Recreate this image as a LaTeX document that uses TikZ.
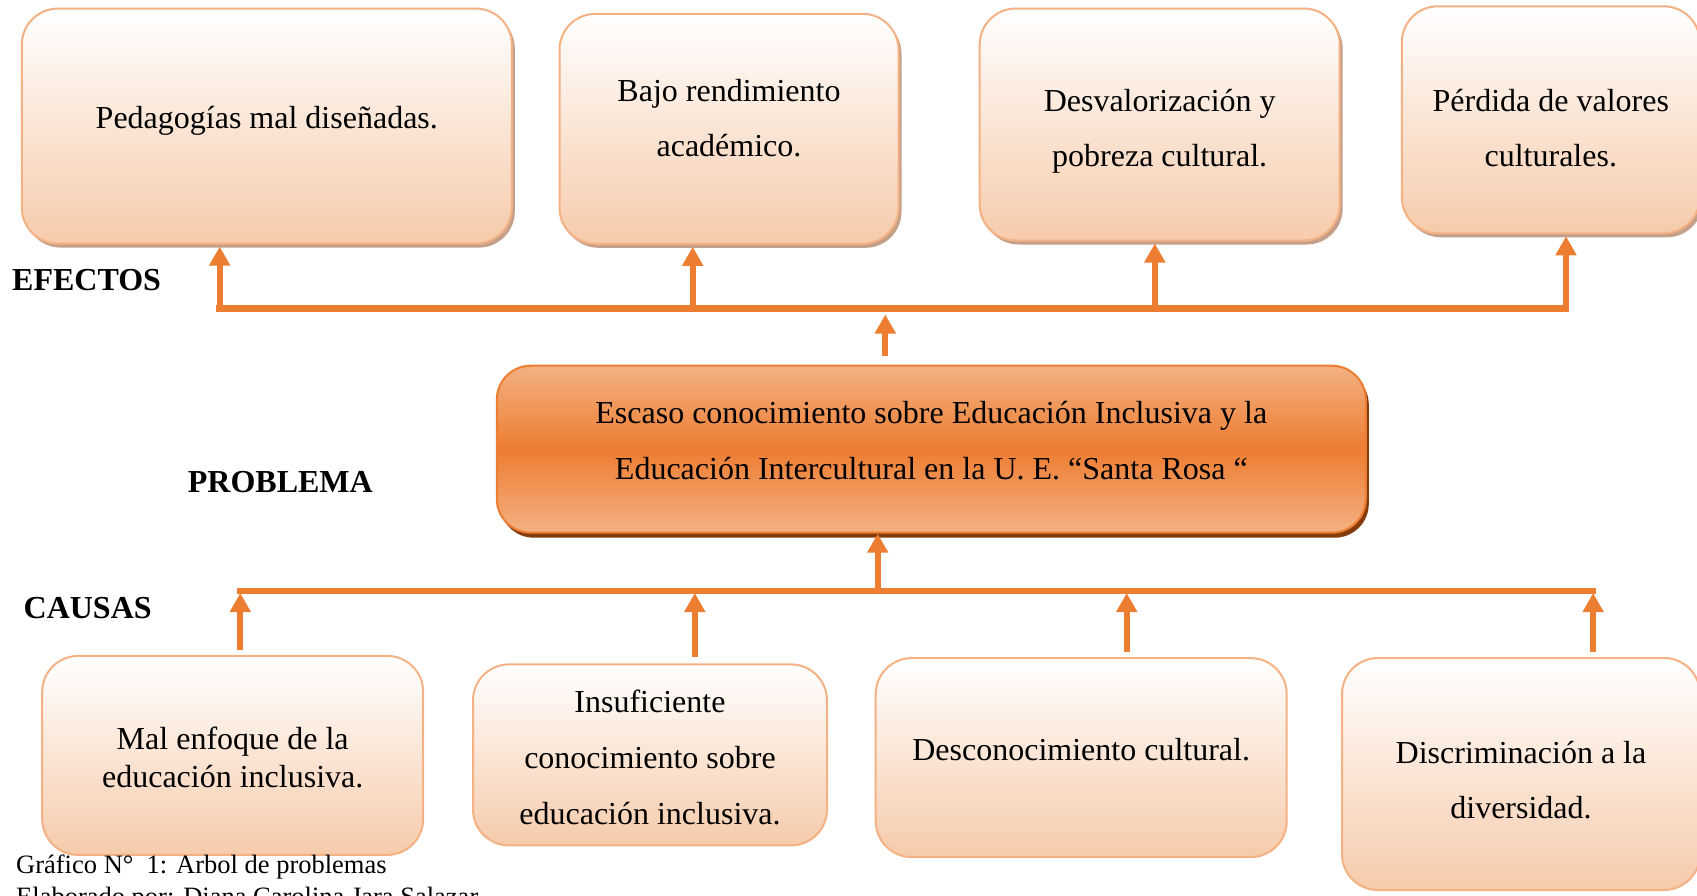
\documentclass[tikz,border=0pt]{standalone}
\usepackage{fontspec}
\setmainfont{Liberation Serif}
\usetikzlibrary{positioning, arrows.meta, shadows}
\definecolor{naranja}{RGB}{237,125,49}
\definecolor{durazno}{RGB}{246,203,171}
\definecolor{borde}{RGB}{244,177,131}
\definecolor{sombra}{RGB}{196,160,138}
\definecolor{cafe}{RGB}{132,60,12}
\tikzset{
	>={Triangle[length=19pt,width=20pt]},
	texto/.style={align=center, inner sep=0pt, font=\fontsize{32}{55}\selectfont},
	caja/.style={draw=borde, line width=2pt, rounded corners=36pt, top color=white, bottom color=durazno, inner sep=0pt},
	efecto/.style={caja, drop shadow={fill=sombra, shadow xshift=3pt, shadow yshift=-4pt, opacity=1}},
	problema/.style={draw=naranja, line width=2pt, rounded corners=34pt, top color=borde, bottom color=borde, middle color=naranja, inner sep=0pt, drop shadow={fill=cafe, shadow xshift=3pt, shadow yshift=-5pt, opacity=1}},
	etiqueta/.style={font=\fontsize{32}{38}\selectfont\bfseries},
	flecha/.style={->, draw=naranja, line width=6.3pt},
	linea/.style={draw=naranja, line width=6.5pt, line cap=rect}}

\begin{document}
\begin{tikzpicture}[x=1pt, y=-1pt]
		\useasboundingbox (0,0) rectangle (1697,895);
		
		%Efectos
		\node[efecto, minimum width=490pt, minimum height=235pt, label={[texto, name=t1, yshift=5.4pt]center:Pedagogías mal diseñadas.}] (ef1) at (266.8,126.1) {};
		\node[efecto, minimum width=339pt, minimum height=230pt, label={[texto, name=t2, yshift=10.8pt]center:Bajo rendimiento\\académico.}] (ef2) at (729,128.8) {};
		\node[efecto, minimum width=360pt, minimum height=232pt, label={[texto, name=t3, yshift=-6.5pt]center:Desvalorización y\\pobreza cultural.}] (ef3) at (1159.7,124.5) {};
		\node[efecto, minimum width=298pt, minimum height=227pt, label={[texto, name=t4, yshift=-8.7pt]center:Pérdida de valores\\culturales.}] (ef4) at (1550.8,119.8) {};
		
		%Problema
		\node[problema, minimum width=869pt, minimum height=167pt, label={[texto, name=tp, yshift=8.7pt, font=\fontsize{32}{56}\selectfont]center:Escaso conocimiento sobre Educación Inclusiva y la\\Educación Intercultural en la U. E. “Santa Rosa “}] (pr) at (931.3,449.2) {};
		
		%Causas
		\node[caja, minimum width=381pt, minimum height=199pt, label={[texto, name=s1, yshift=-2pt, font=\fontsize{32}{38}\selectfont]center:Mal enfoque de la\\educación inclusiva.}] (ca1) at (232.7,755.4) {};
		\node[caja, minimum width=354pt, minimum height=181pt, label={[texto, name=s2, yshift=-3pt, font=\fontsize{32}{56}\selectfont]center:Insuficiente\\conocimiento sobre\\educación inclusiva.}] (ca2) at (650,754.9) {};
		\node[caja, minimum width=411pt, minimum height=199pt, label={[texto, name=s3, yshift=7.6pt]center:Desconocimiento cultural.}] (ca3) at (1081.2,757.6) {};
		\node[caja, minimum width=358pt, minimum height=232pt, label={[texto, name=s4, yshift=-6.5pt]center:Discriminación a la\\diversidad.}] (ca4) at (1521,774) {};
		
		% Etiquetas
		\node[etiqueta] (efectos) at (86.6,280.3) {EFECTOS};
		\node[etiqueta] (problem) at (280.3,481.6) {PROBLEMA};
		\node[etiqueta] (causas) at (87.7,608.2) {CAUSAS};
		
		% Pie
		\node[anchor=base west, inner sep=0pt, font=\fontsize{26.5}{32}\selectfont] (graf) at (16,873) {Gráfico N°~~1: Arbol de problemas};
		\node[anchor=base west, inner sep=0pt, font=\fontsize{26.5}{32}\selectfont] (elab) at (16,905) {Elaborado por: Diana Carolina Jara Salazar};
		
		% Uniones
		\coordinate (e1) at (219.7,308.5);
		\coordinate (e2) at (692.7,308.5);
		\coordinate (e3) at (1154.8,308.5);
		\coordinate (e4) at (1566,308.5);
		\coordinate (pe) at (885.3,308.5);
		\coordinate (c1) at (240.3,591);
		\coordinate (c2) at (694.8,591);
		\coordinate (c3) at (1126.7,591);
		\coordinate (c4) at (1593.1,591);
		\coordinate (cp) at (877.7,591);
		
		\draw[linea] (e1) -- (e4);
		\draw[linea] (c1) -- (c4);
		
		\draw[flecha, shorten >=2pt] (e1) -- (e1 |- ef1.south);
		\draw[flecha, shorten >=2pt] (e2) -- (e2 |- ef2.south);
		\draw[flecha, shorten >=2pt] (e3) -- (e3 |- ef3.south);
		\draw[flecha, shorten >=2pt] (e4) -- (e4 |- ef4.south);
		\draw[flecha, shorten <=9pt, shorten >=6pt] (pe |- pr.north) -- (pe);
		
		\draw[flecha] (cp) -- (cp |- pr.south);
		\draw[flecha, shorten <=5pt, shorten >=2pt] (c1 |- ca1.north) -- (c1);
		\draw[flecha, shorten <=6pt, shorten >=2pt] (c2 |- ca2.north) -- (c2);
		\draw[flecha, shorten <=5pt, shorten >=2pt] (c3 |- ca3.north) -- (c3);
		\draw[flecha, shorten <=5pt, shorten >=2pt] (c4 |- ca4.north) -- (c4);
	\end{tikzpicture}
\end{document}
